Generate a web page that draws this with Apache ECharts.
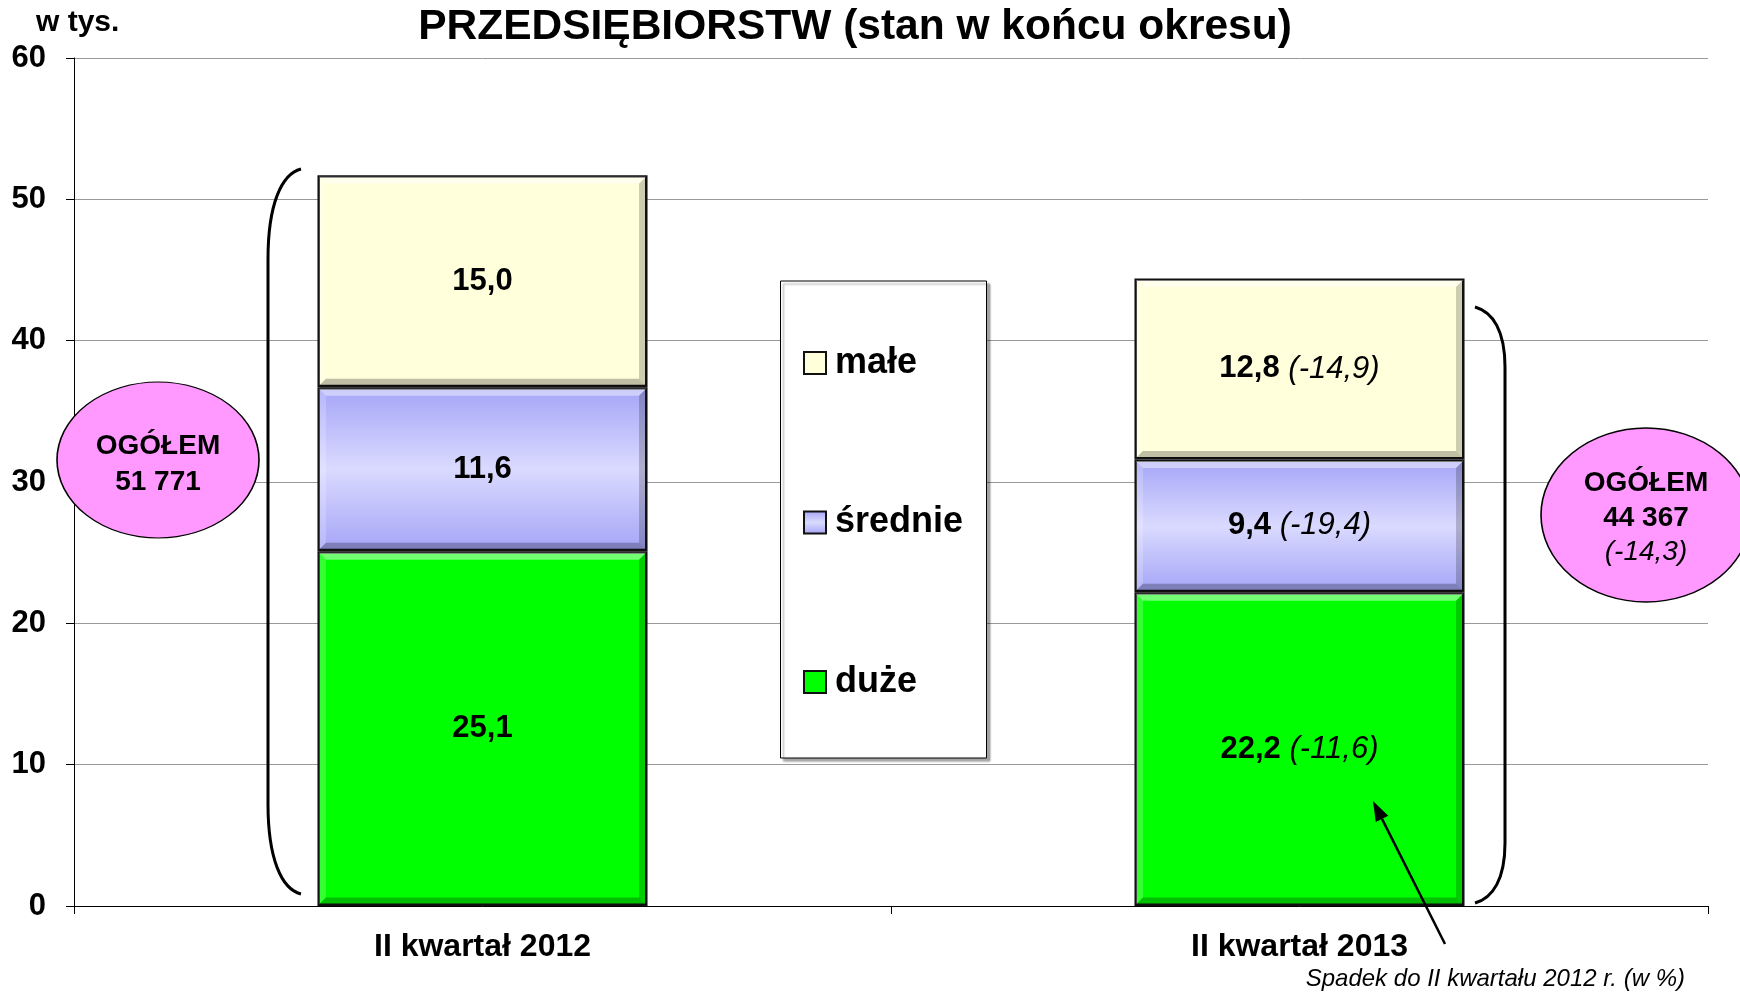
<!DOCTYPE html>
<html>
<head>
<meta charset="utf-8">
<title>Przedsiębiorstwa</title>
<script src="https://cdn.jsdelivr.net/npm/echarts@6.0.0/dist/echarts.min.js"></script>
<style>
  html, body { margin: 0; padding: 0; background: #fff; }
  #chart { width: 1740px; height: 992px; }
</style>
</head>
<body>
<div id="chart"></div>
<script>
const categories = ['II kwartał 2012', 'II kwartał 2013'];
const large = [25.1, 22.2];
const medium = [11.6, 9.4];
const small = [15.0, 12.8];
// spadek do II kwartału 2012 r. (w %)
const largeChange = [null, -11.6];
const mediumChange = [null, -19.4];
const smallChange = [null, -14.9];
const totals = ['51 771', '44 367'];
const totalChange = -14.3;
const yTicks = [0, 60, 10];

const font = "'Liberation Sans', Arial, sans-serif";
const fmt = (v) => v.toFixed(1).replace('.', ',');

const colors = {
  large: '#00ff00',
  medium: {
    type: 'linear', x: 0, y: 0, x2: 0, y2: 1,
    colorStops: [
      { offset: 0, color: '#a4a4f7' },
      { offset: 0.5, color: '#dadaff' },
      { offset: 1, color: '#a4a4f7' },
    ],
  },
  small: '#ffffdc',
};

const makeLabel = (changes) => ({
  show: true,
  position: 'inside',
  formatter: (p) => {
    const c = changes[p.dataIndex];
    return c == null ? `{v|${fmt(p.value)}}` : `{v|${fmt(p.value)}}{p| (${fmt(c)})}`;
  },
  rich: {
    v: { fontFamily: font, fontWeight: 'bold', fontSize: 31, color: '#000' },
    p: { fontFamily: font, fontStyle: 'italic', fontSize: 31, color: '#000' },
  },
});

const barStyle = (color) => ({
  color,
  borderColor: '#111',
  borderWidth: 2.5,
});

// bevel overlay, one item per segment: [category, base, top]
const bevelData = [];
categories.forEach((c, i) => {
  let base = 0;
  [large, medium, small].forEach((arr) => {
    bevelData.push([i, base, base + arr[i]]);
    base += arr[i];
  });
});

const bevel = (params, api) => {
  const cat = api.value(0);
  const p0 = api.coord([cat, api.value(1)]);
  const p1 = api.coord([cat, api.value(2)]);
  const bw = api.size([1, 0])[0] * 0.404;
  const x0 = p0[0] - bw / 2 + 1.5;
  const x1 = p0[0] + bw / 2 - 1.5;
  const yb = p0[1] - 1.5;
  const yt = p1[1] + 1.5;
  const w = 7;
  const poly = (points, fill) => ({ type: 'polygon', shape: { points }, style: { fill }, silent: true });
  return {
    type: 'group',
    children: [
      poly([[x0, yt], [x1, yt], [x1 - w, yt + w], [x0 + w, yt + w]], 'rgba(255,255,255,0.45)'),
      poly([[x0, yt], [x0 + w, yt + w], [x0 + w, yb - w], [x0, yb]], 'rgba(255,255,255,0.2)'),
      poly([[x1, yt], [x1, yb], [x1 - w, yb - w], [x1 - w, yt + w]], 'rgba(0,0,0,0.2)'),
      poly([[x0, yb], [x0 + w, yb - w], [x1 - w, yb - w], [x1, yb]], 'rgba(0,0,0,0.25)'),
    ],
  };
};

// strzałka do opisu
const arrowTail = [1445, 944];
const arrowTip = [1373, 801];
const dx = arrowTip[0] - arrowTail[0];
const dy = arrowTip[1] - arrowTail[1];
const len = Math.sqrt(dx * dx + dy * dy);
const ux = dx / len;
const uy = dy / len;
const headL = 20;
const headW = 7;
const hb = [arrowTip[0] - ux * headL, arrowTip[1] - uy * headL];

const txt = (x, y, text, size, extra) => ({
  type: 'text',
  x,
  y,
  z: 20,
  style: Object.assign({
    text,
    fontFamily: font,
    fontWeight: 'bold',
    fontSize: size,
    fill: '#000',
    textAlign: 'center',
    textVerticalAlign: 'middle',
  }, extra || {}),
});

const oval = (cx, cy, rx, ry) => ({
  type: 'circle',
  z: 8,
  x: cx,
  y: cy,
  scaleY: ry / rx,
  shape: { cx: 0, cy: 0, r: rx },
  style: { fill: '#ff99ff', stroke: '#000', lineWidth: 1.6, strokeNoScale: true },
});

// klamra: górny łuk, prosta, dolny łuk
const brace = (xEnd, xLine, yTop, yBot, curve) => [
  {
    type: 'bezierCurve',
    z: 6,
    shape: { x1: xEnd, y1: yTop, cpx1: xEnd + (xLine - xEnd) * 0.6, cpy1: yTop + 5, cpx2: xLine, cpy2: yTop + curve * 0.4, x2: xLine, y2: yTop + curve },
    style: { fill: null, stroke: '#000', lineWidth: 3 },
  },
  {
    type: 'line',
    z: 6,
    shape: { x1: xLine, y1: yTop + curve, x2: xLine, y2: yBot - curve },
    style: { stroke: '#000', lineWidth: 3 },
  },
  {
    type: 'bezierCurve',
    z: 6,
    shape: { x1: xLine, y1: yBot - curve, cpx1: xLine, cpy1: yBot - curve * 0.4, cpx2: xEnd + (xLine - xEnd) * 0.6, cpy2: yBot - 5, x2: xEnd, y2: yBot },
    style: { fill: null, stroke: '#000', lineWidth: 3 },
  },
];

const myChart = echarts.init(document.getElementById('chart'));
myChart.setOption({
  animation: false,
  textStyle: { fontFamily: font },
  title: {
    text: 'PRZEDSIĘBIORSTW (stan w końcu okresu)',
    left: 850,
    textAlign: 'center',
    top: 1,
    textStyle: { fontFamily: font, fontWeight: 'bold', fontSize: 42.5, color: '#000' },
  },
  grid: { left: 74, right: 32, top: 58, bottom: 86 },
  legend: {
    data: ['małe', 'średnie', 'duże'],
    orient: 'vertical',
    left: 798,
    top: 338,
    itemWidth: 22,
    itemHeight: 22,
    itemGap: 119.5,
    icon: 'rect',
    z: 10,
    selectedMode: false,
    textStyle: {
      fontFamily: font,
      fontWeight: 'bold',
      fontSize: 36,
      color: '#000',
      lineHeight: 40,
      padding: [0, 0, 0, 4],
    },
  },
  xAxis: {
    type: 'category',
    data: categories,
    axisLine: { lineStyle: { color: '#000', width: 1 } },
    axisTick: { show: true, length: 8, lineStyle: { color: '#000' } },
    axisLabel: {
      interval: 0,
      margin: 25,
      fontFamily: font,
      fontWeight: 'bold',
      fontSize: 32,
      color: '#000',
    },
  },
  yAxis: {
    type: 'value',
    min: yTicks[0],
    max: yTicks[1],
    interval: yTicks[2],
    axisLine: { show: true, lineStyle: { color: '#000', width: 1 } },
    axisTick: { show: true, length: 8, lineStyle: { color: '#000' } },
    splitLine: { lineStyle: { color: '#999', width: 1 } },
    axisLabel: {
      margin: 28,
      fontFamily: font,
      fontWeight: 'bold',
      fontSize: 31,
      color: '#000',
    },
  },
  series: [
    {
      name: 'duże',
      type: 'bar',
      stack: 'all',
      barWidth: '40.4%',
      data: large,
      itemStyle: barStyle(colors.large),
      label: makeLabel(largeChange),
    },
    {
      name: 'średnie',
      type: 'bar',
      stack: 'all',
      barWidth: '40.4%',
      data: medium,
      itemStyle: barStyle(colors.medium),
      label: makeLabel(mediumChange),
    },
    {
      name: 'małe',
      type: 'bar',
      stack: 'all',
      barWidth: '40.4%',
      data: small,
      itemStyle: barStyle(colors.small),
      label: makeLabel(smallChange),
    },
    {
      name: 'bevel',
      type: 'custom',
      renderItem: bevel,
      data: bevelData,
      encode: { x: 0, y: 2 },
      silent: true,
      z: 3,
    },
  ],
  graphic: [
    txt(36, 23, 'w tys.', 30, { textAlign: 'left' }),
    // ramka legendy
    {
      type: 'rect',
      z: 5,
      shape: { x: 780.5, y: 281, width: 206, height: 477 },
      style: {
        fill: '#fff',
        stroke: '#000',
        lineWidth: 1,
        shadowColor: 'rgba(0,0,0,0.35)',
        shadowOffsetX: 3,
        shadowOffsetY: 3,
        shadowBlur: 2,
      },
    },
    ...brace(301, 268, 169, 894, 90),
    ...brace(1475, 1505, 307, 903, 60),
    // owale z sumą
    oval(158, 460, 101, 78),
    txt(158, 446, 'OGÓŁEM', 28),
    txt(158, 482, totals[0], 28),
    oval(1646, 515, 105, 87),
    txt(1646, 483, 'OGÓŁEM', 28),
    txt(1646, 518, totals[1], 28),
    txt(1646, 552, `(${fmt(totalChange)})`, 28, { fontWeight: 'normal', fontStyle: 'italic' }),
    // strzałka i opis
    {
      type: 'line',
      z: 9,
      shape: { x1: arrowTail[0], y1: arrowTail[1], x2: hb[0], y2: hb[1] },
      style: { stroke: '#000', lineWidth: 2.5 },
    },
    {
      type: 'polygon',
      z: 9,
      shape: {
        points: [
          arrowTip,
          [hb[0] - uy * headW, hb[1] + ux * headW],
          [hb[0] + uy * headW, hb[1] - ux * headW],
        ],
      },
      style: { fill: '#000' },
    },
    txt(1685, 979, 'Spadek do II kwartału 2012 r. (w %)', 24, { fontWeight: 'normal', fontStyle: 'italic', textAlign: 'right' }),
  ],
});
window.onresize = function () {
  myChart.resize();
};
</script>
</body>
</html>
